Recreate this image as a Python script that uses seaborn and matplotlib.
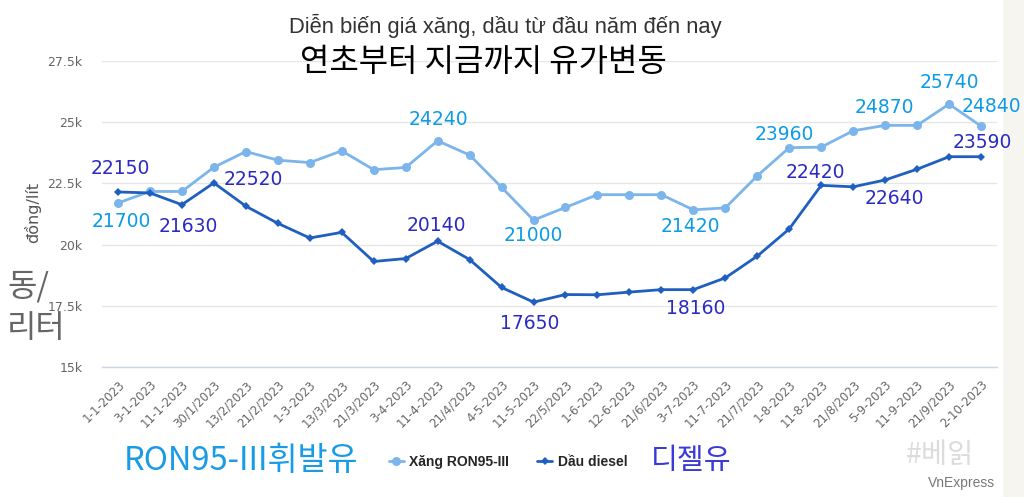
import numpy as np
import pandas as pd
import seaborn as sns
import matplotlib.pyplot as plt
from matplotlib.lines import Line2D
from matplotlib.patches import Rectangle

# dữ liệu giá (đồng/lít)
dates = ["1-1-2023", "3-1-2023", "11-1-2023", "30/1/2023", "13/2/2023", "21/2/2023",
         "1-3-2023", "13/3/2023", "21/3/2023", "3-4-2023", "11-4-2023", "21/4/2023",
         "4-5-2023", "11-5-2023", "22/5/2023", "1-6-2023", "12-6-2023", "21/6/2023",
         "3-7-2023", "11-7-2023", "21/7/2023", "1-8-2023", "11-8-2023", "21/8/2023",
         "5-9-2023", "11-9-2023", "21/9/2023", "2-10-2023"]
ron95 = [21700, 22170, 22170, 23160, 23800, 23450, 23350, 23830, 23060, 23150, 24240, 23660,
         22340, 21000, 21520, 22040, 22040, 22040, 21420, 21500, 22810, 23960, 23980, 24650,
         24870, 24870, 25740, 24840]
diesel = [22150, 22110, 21630, 22520, 21570, 20870, 20270, 20500, 19310, 19430, 20140, 19390,
          18250, 17650, 17960, 17950, 18060, 18160, 18160, 18640, 19530, 20640, 22420, 22360,
          22640, 23080, 23590, 23590]
y_ticks = [15000, 17500, 20000, 22500, 25000, 27500]
y_tick_labels = ["15k", "17.5k", "20k", "22.5k", "25k", "27.5k"]

# điểm được ghi nhãn -> độ lệch (pixel)
ron_labels = {0: (3, -19), 10: (1, 21), 13: (0, -15), 18: (-3, -17), 21: (-5, 13),
              24: (-1, 18), 26: (0, 22), 27: (10, 20)}
diesel_labels = {0: (2, 23), 2: (6, -22), 3: (39, 3), 10: (-1, 16), 13: (-4, -21),
                 18: (2, -19), 22: (-6, 13), 24: (9, -19), 27: (1, 14)}

c_ron = "#7cb5ec"
c_diesel = "#1f5fbf"
c_ron_txt = "#0d9be6"
c_diesel_txt = "#2b2bc2"

df = pd.DataFrame({"pos": np.arange(len(dates)), "date": dates,
                   "ron95": ron95, "diesel": diesel})

sns.set_theme(style="white")
plt.rcParams["font.family"] = ["DejaVu Sans", "Noto Sans CJK KR"]

fig = plt.figure(figsize=(10.24, 4.97), dpi=100, facecolor="white")
fig.patches.append(Rectangle((1003 / 1024, 0), 21 / 1024, 1, transform=fig.transFigure,
                             facecolor="#f7f5ef", edgecolor="none", zorder=-5))
ax = fig.add_axes([102 / 1024, 1 - 367 / 497, 895 / 1024, 306 / 497])
ax.set_facecolor("white")

sns.lineplot(data=df, x="pos", y="ron95", ax=ax, color=c_ron, linewidth=2,
             marker="o", markersize=6.5, markeredgewidth=0, zorder=3)
sns.lineplot(data=df, x="pos", y="diesel", ax=ax, color=c_diesel, linewidth=2,
             marker="D", markersize=4.5, markeredgewidth=0, zorder=4)

ax.set_xlim(-0.5, len(dates) - 0.5)
ax.set_ylim(15000, 27500)
ax.set_yticks(y_ticks)
ax.set_yticklabels(y_tick_labels, color="#666666", fontsize=9)
ax.set_xticks(df["pos"])
ax.set_xticklabels(dates, rotation=45, ha="right", rotation_mode="anchor",
                   color="#666666", fontsize=8.5)
ax.tick_params(axis="y", length=0, pad=14)
ax.tick_params(axis="x", length=0, pad=8)
ax.grid(axis="y", color="#e6e6e6", linewidth=1)
ax.set_xlabel("")
ax.set_ylabel("")
for s in ["top", "right", "left"]:
    ax.spines[s].set_visible(False)
ax.spines["bottom"].set_color("#ccd6eb")
ax.spines["bottom"].set_linewidth(1)

for i, (dx, dy) in ron_labels.items():
    ax.annotate(str(ron95[i]), (i, ron95[i]), xytext=(dx, dy), textcoords="offset pixels",
                ha="center", va="center", color=c_ron_txt, fontsize=13.5, zorder=6)
for i, (dx, dy) in diesel_labels.items():
    ax.annotate(str(diesel[i]), (i, diesel[i]), xytext=(dx, dy), textcoords="offset pixels",
                ha="center", va="center", color=c_diesel_txt, fontsize=13.5, zorder=6)

# tiêu đề
fig.text(505 / 1024, 1 - 26 / 497, "Diễn biến giá xăng, dầu từ đầu năm đến nay",
         ha="center", va="center", fontsize=15.8, color="#333333", family="Liberation Sans")
fig.text(483 / 1024, 1 - 62 / 497, "연초부터 지금까지 유가변동", ha="center", va="center",
         fontsize=23, color="black", family="Noto Sans CJK KR")

# nhãn trục y
fig.text(33 / 1024, 1 - 212 / 497, "đồng/lít", rotation=90, ha="center", va="center",
         fontsize=11.5, color="#555555")
fig.text(7 / 1024, 1 - 287 / 497, "동/", ha="left", va="center", fontsize=23,
         color="#666666", family="Noto Sans CJK KR")
fig.text(7 / 1024, 1 - 328 / 497, "리터", ha="left", va="center", fontsize=23,
         color="#666666", family="Noto Sans CJK KR")

# chú thích
handles = [Line2D([], [], color=c_ron, marker="o", markersize=6.5, markeredgewidth=0, linewidth=2),
           Line2D([], [], color=c_diesel, marker="D", markersize=4.5, markeredgewidth=0, linewidth=2)]
fig.legend(handles, ["Xăng RON95-III", "Dầu diesel"], loc="center",
           bbox_to_anchor=(508 / 1024, 1 - 462 / 497), ncol=2, frameon=False,
           handlelength=1.1, handletextpad=0.4, columnspacing=2.0,
           prop={"family": "Liberation Sans", "weight": "bold", "size": 10})
fig.text(124 / 1024, 1 - 461 / 497, "RON95-III휘발유", ha="left", va="center",
         fontsize=23.5, color="#1a9be6", family="Noto Sans CJK KR")
fig.text(651 / 1024, 1 - 461 / 497, "디젤유", ha="left", va="center",
         fontsize=21, color="#3a3ad6", family="Noto Sans CJK KR")
fig.text(940 / 1024, 1 - 455 / 497, "#베읽", ha="center", va="center",
         fontsize=20.5, color="#dcdcdc", family="Noto Sans CJK KR")
fig.text(995 / 1024, 1 - 483 / 497, "VnExpress", ha="right", va="center",
         fontsize=10, color="#777777", family="Liberation Sans")

fig.savefig("out.png", dpi=100, facecolor=fig.get_facecolor())
